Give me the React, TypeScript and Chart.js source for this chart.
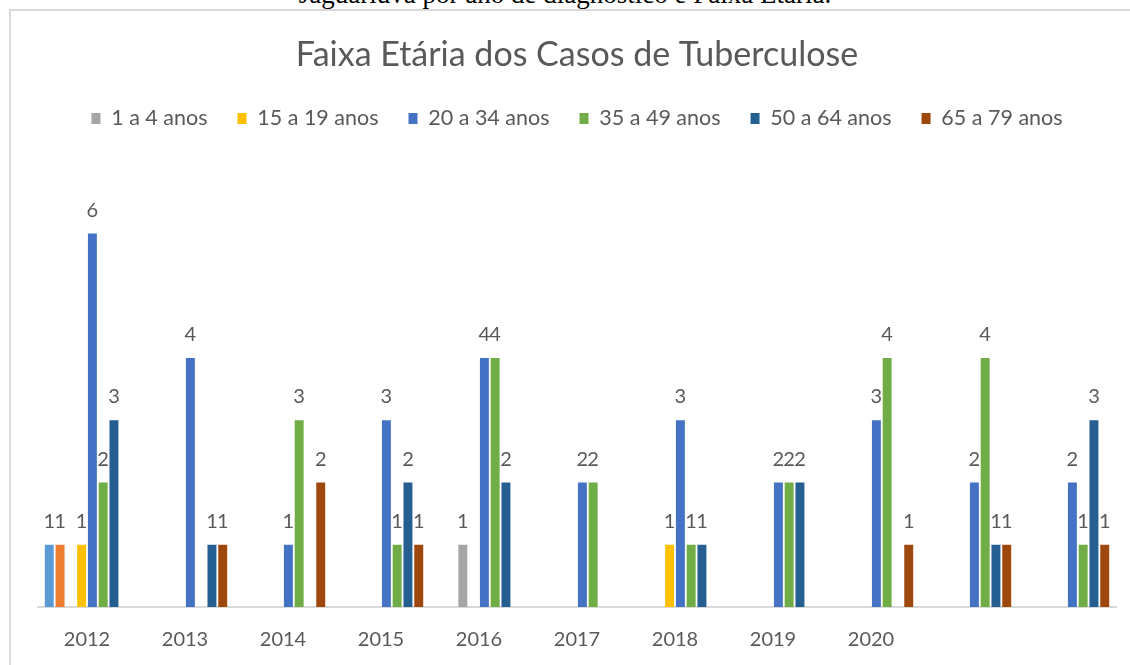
import React, { useEffect, useRef } from "react";
import { Chart, registerables } from "chart.js";

Chart.register(...registerables);

const categories = ["2012", "2013", "2014", "2015", "2016", "2017", "2018", "2019", "2020", "", ""];

const seriesNames = [
  "Série 1",
  "Série 2",
  "1 a 4 anos",
  "15 a 19 anos",
  "20 a 34 anos",
  "35 a 49 anos",
  "50 a 64 anos",
  "65 a 79 anos",
];

const hiddenInLegend = ["Série 1", "Série 2"];

const serie1 = [1, null, null, null, null, null, null, null, null, null, null];
const serie2 = [1, null, null, null, null, null, null, null, null, null, null];
const anos1a4 = [null, null, null, null, 1, null, null, null, null, null, null];
const anos15a19 = [1, null, null, null, null, null, 1, null, null, null, null];
const anos20a34 = [6, 4, 1, 3, 4, 2, 3, 2, 3, 2, 2];
const anos35a49 = [2, null, 3, 1, 4, 2, 1, 2, 4, 4, 1];
const anos50a64 = [3, 1, null, 2, 2, null, 1, 2, null, 1, 3];
const anos65a79 = [null, 1, 2, 1, null, null, null, null, 1, 1, 1];

const seriesValues = [serie1, serie2, anos1a4, anos15a19, anos20a34, anos35a49, anos50a64, anos65a79];

const colors = ["#5B9BD5", "#ED7D31", "#A5A5A5", "#FFC000", "#4472C4", "#70AD47", "#255E91", "#9E480E"];

const titleText = "Faixa Etária dos Casos de Tuberculose";
const captionText = "Jaguariúva por ano de diagnóstico e Faixa Etária.";

const FONT = "Lato, 'Open Sans', sans-serif";
const TEXT_COLOR = "#595959";

const valueLabels = {
  id: "valueLabels",
  afterDatasetsDraw(chart: any) {
    const ctx = chart.ctx;
    ctx.save();
    ctx.font = `20px ${FONT}`;
    ctx.fillStyle = TEXT_COLOR;
    ctx.textAlign = "center";
    ctx.textBaseline = "alphabetic";
    chart.data.datasets.forEach((ds: any, i: number) => {
      const meta = chart.getDatasetMeta(i);
      meta.data.forEach((el: any, j: number) => {
        const v = ds.data[j];
        if (v == null) return;
        ctx.fillText(String(v), el.x, el.y - 17);
      });
    });
    ctx.restore();
  },
};

const legendSpacer = {
  id: "legendSpacer",
  beforeInit(chart: any) {
    const legend = chart.legend;
    if (!legend) return;
    const origFit = legend.fit;
    legend.fit = function () {
      origFit.call(this);
      this.height += 32;
    };
  },
};

export default function App() {
  const ref = useRef<HTMLCanvasElement | null>(null);

  useEffect(() => {
    if (!ref.current) return;
    const chart = new Chart(ref.current, {
      type: "bar",
      data: {
        labels: categories,
        datasets: seriesValues.map((vals, i) => ({
          label: seriesNames[i],
          data: vals,
          backgroundColor: colors[i],
          borderWidth: 0,
          barPercentage: 0.83,
          categoryPercentage: 0.88,
        })),
      },
      options: {
        animation: false,
        responsive: false,
        maintainAspectRatio: false,
        layout: { padding: { left: 38, right: 14, top: 0, bottom: -8 } },
        plugins: {
          title: {
            display: true,
            text: titleText,
            color: TEXT_COLOR,
            font: { family: FONT, size: 34, weight: "normal" },
            padding: { top: 35, bottom: 2 },
          },
          legend: {
            display: true,
            position: "top",
            labels: {
              color: TEXT_COLOR,
              font: { family: FONT, size: 21.5 },
              boxWidth: 9,
              boxHeight: 11,
              padding: 30,
              filter: (item: any) => !hiddenInLegend.includes(item.text),
            },
          },
          tooltip: { enabled: false },
        },
        scales: {
          x: {
            grid: { display: false, drawTicks: false },
            border: { display: true, color: "#D9D9D9", width: 2 },
            ticks: { color: TEXT_COLOR, font: { family: FONT, size: 20 }, padding: 21, maxRotation: 0, autoSkip: false },
          },
          y: {
            display: false,
            min: 0,
            max: 7,
          },
        },
      },
      plugins: [valueLabels, legendSpacer],
    });
    return () => chart.destroy();
  }, []);

  return (
    <div style={{ position: "fixed", left: 0, top: 0, width: 1130, height: 665, overflow: "hidden", background: "#fff" }}>
      <div
        style={{
          position: "absolute",
          left: 0,
          width: 1130,
          top: -19,
          textAlign: "center",
          fontFamily: "'Liberation Serif', 'Times New Roman', serif",
          fontSize: 27,
          lineHeight: "27px",
          color: "#000",
          whiteSpace: "nowrap",
        }}
      >
        {captionText}
      </div>
      <div
        style={{
          position: "absolute",
          left: 9,
          top: 9,
          width: 1200,
          height: 700,
          borderLeft: "2px solid #D9D9D9",
          borderTop: "2px solid #D9D9D9",
        }}
      />
      <canvas ref={ref} width={1130} height={665} style={{ position: "absolute", left: 0, top: 0 }} />
    </div>
  );
}
